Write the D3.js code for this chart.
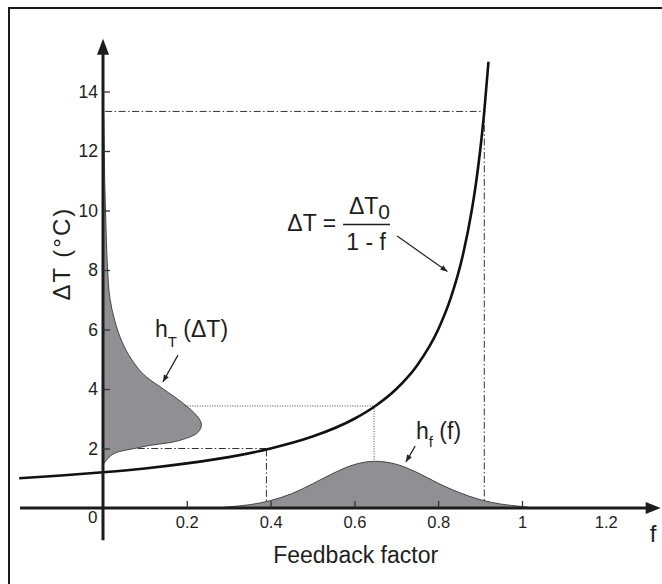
<!DOCTYPE html>
<html><head><meta charset="utf-8">
<script src="https://cdn.jsdelivr.net/npm/d3@7"></script>
<style>
body{margin:0;background:#fff}
svg{display:block}
text{font-family:"Liberation Sans",Arial,Helvetica,sans-serif;fill:#1e1e1e}
</style>
</head><body>
<svg id="c" width="662" height="584"></svg>
<script>
// Response curve ΔT = ΔT0/(1-f) (ΔT0 ≈ 1.2)
const curveF = [-0.2,-0.1,0,0.1,0.2,0.3,0.4,0.5,0.6,0.65,0.7,0.75,0.8,0.83,0.86,0.88,0.89,0.9,0.91,0.92];
const curveT = [1.0,1.09,1.2,1.33,1.5,1.71,2.0,2.4,3.0,3.43,4.0,4.8,6.0,7.06,8.57,10.0,10.9,12.0,13.33,15.0];

// h_f(f): distribution of feedback factor (height in ΔT-axis units)
const hfF = [0.27,0.3,0.35,0.4,0.45,0.5,0.55,0.6,0.65,0.7,0.75,0.8,0.85,0.9,0.95,1.0,1.03];
const hfH = [0.0,0.04,0.11,0.25,0.48,0.81,1.17,1.46,1.57,1.47,1.19,0.83,0.52,0.28,0.13,0.05,0.0];

// h_T(ΔT): distribution of warming (width in f-axis units)
const htT = [1.4,1.5,1.6,1.75,1.9,2.0,2.1,2.2,2.35,2.55,2.8,3.1,3.5,4.0,4.4,5.0,5.6,6.3,7.0,8.0,9.0,10.0,11.0,12.0,13.0,14.0];
const htW = [0,0.002,0.008,0.018,0.04,0.075,0.11,0.16,0.2,0.227,0.235,0.224,0.193,0.144,0.104,0.068,0.045,0.028,0.017,0.011,0.008,0.006,0.004,0.003,0.002,0];

// axes
const xTickVals = [0,0.2,0.4,0.6,0.8,1,1.2];
const xTickLabels = ["0","0.2","0.4","0.6","0.8","1","1.2"];
const yTickVals = [2,4,6,8,10,12,14];
const yTickLabels = ["2","4","6","8","10","12","14"];

// projection guide lines [f, ΔT]
const guideDashDot = [
  [[0.005,13.33],[0.91,13.33]],
  [[0.91,13.33],[0.91,0.26]],
  [[0.083,2.0],[0.39,2.0]],
  [[0.39,1.97],[0.39,0.23]]
];
const guideDotted = [
  [[0.195,3.43],[0.647,3.43]],
  [[0.647,3.43],[0.647,1.57]]
];

const svg = d3.select("#c");
const x = d3.scaleLinear().domain([0,1]).range([103,522]);
const y = d3.scaleLinear().domain([0,14]).range([508,91.5]);

// frame
svg.append("path").attr("d","M9,600V8H680").attr("fill","none").attr("stroke","#1a1a1a").attr("stroke-width",2);

const defs = svg.append("defs");
defs.append("marker").attr("id","ah").attr("viewBox","0 0 10 10").attr("refX",10).attr("refY",5)
  .attr("markerWidth",9).attr("markerHeight",7).attr("markerUnits","userSpaceOnUse").attr("orient","auto")
  .append("path").attr("d","M0,1L10,5L0,9Z").attr("fill","#222");

// h_T fill
const htData = htT.map((t,i)=>({t, w: htW[i]}));
svg.append("path").datum(htData)
  .attr("d", d3.area().y(d=>y(d.t)).x0(x(0)).x1(d=>x(d.w)).curve(d3.curveMonotoneY))
  .attr("fill","#909094");
svg.append("path").datum(htData)
  .attr("d", d3.line().y(d=>y(d.t)).x(d=>x(d.w)).curve(d3.curveMonotoneY))
  .attr("fill","none").attr("stroke","#444").attr("stroke-width",1);

// h_f fill
const hfData = hfF.map((f,i)=>({f, h: hfH[i]}));
svg.append("path").datum(hfData)
  .attr("d", d3.area().x(d=>x(d.f)).y0(y(0)).y1(d=>y(d.h)).curve(d3.curveMonotoneX))
  .attr("fill","#909094");
svg.append("path").datum(hfData)
  .attr("d", d3.line().x(d=>x(d.f)).y(d=>y(d.h)).curve(d3.curveMonotoneX))
  .attr("fill","none").attr("stroke","#444").attr("stroke-width",1);

// guides
const gl = d3.line().x(d=>x(d[0])).y(d=>y(d[1]));
svg.selectAll(".dd").data(guideDashDot).join("path")
  .attr("d", gl).attr("fill","none").attr("stroke","#333").attr("stroke-width",1)
  .attr("stroke-dasharray","7,2.5,1.5,2.5");
svg.selectAll(".dt").data(guideDotted).join("path")
  .attr("d", gl).attr("fill","none").attr("stroke","#444").attr("stroke-width",1)
  .attr("stroke-dasharray","1,1.5");

// main curve
const cData = curveF.map((f,i)=>({f, t: curveT[i]}));
svg.append("path").datum(cData)
  .attr("d", d3.line().x(d=>x(d.f)).y(d=>y(d.t)).curve(d3.curveMonotoneX))
  .attr("fill","none").attr("stroke","#111").attr("stroke-width",2.6);

// axes lines with arrowheads
const axCol = "#1c1c1c";
svg.append("line").attr("x1",x(-0.198)).attr("x2",x(1.3)).attr("y1",y(0)).attr("y2",y(0))
  .attr("stroke",axCol).attr("stroke-width",3);
svg.append("path").attr("d",`M${x(1.3)-2},${y(0)-6}L${x(1.3)+13},${y(0)}L${x(1.3)-2},${y(0)+6}Z`).attr("fill",axCol);
svg.append("line").attr("x1",x(0)).attr("x2",x(0)).attr("y1",y(-1.08)).attr("y2",y(15.3))
  .attr("stroke",axCol).attr("stroke-width",3);
svg.append("path").attr("d",`M${x(0)-6},${y(15.3)+2}L${x(0)},${y(15.3)-14}L${x(0)+6},${y(15.3)+2}Z`).attr("fill",axCol);

// tick axes
const tf = '"Liberation Sans",Arial,sans-serif';
const xa = svg.append("g").attr("transform",`translate(0,${y(0)})`)
  .call(d3.axisBottom(x).tickValues(xTickVals).tickFormat((d,i)=>xTickLabels[i]).tickSize(-7).tickPadding(8));
xa.select(".domain").remove();
xa.selectAll("line").attr("stroke","#333").attr("stroke-width",1.3)
  .filter(d=>d===0||d===1.2).remove();
xa.selectAll("text").attr("font-size",16.5).attr("fill","#1e1e1e").style("font-family",tf);
xa.selectAll("text").filter(d=>d===0).attr("text-anchor","end").attr("x",-6).attr("y",3).attr("font-size",17);

const ya = svg.append("g").attr("transform",`translate(${x(0)},0)`)
  .call(d3.axisLeft(y).tickValues(yTickVals).tickFormat((d,i)=>yTickLabels[i]).tickSize(-7).tickPadding(5));
ya.select(".domain").remove();
ya.selectAll("line").attr("stroke","#333").attr("stroke-width",1.3);
ya.selectAll("text").attr("font-size",17.5).attr("fill","#1e1e1e").style("font-family",tf);

// axis titles
svg.append("text").attr("x",x(0.603)).attr("y",563).attr("text-anchor","middle").attr("font-size",23).text("Feedback factor");
svg.append("text").attr("x",x(1.305)).attr("y",542).attr("font-size",24).text("f");
svg.append("text").attr("transform",`translate(70,${y(8.55)}) rotate(-90)`).attr("text-anchor","middle")
  .attr("font-size",24).attr("letter-spacing",2).text("ΔT (°C)");

// formula
svg.append("text").attr("x",x(0.44)).attr("y",y(9.3)).attr("font-size",23).text("ΔT =");
const num = svg.append("text").attr("x",x(0.587)).attr("y",y(9.87)).attr("font-size",23);
num.append("tspan").text("ΔT");
num.append("tspan").attr("dy",5).attr("font-size",21).text("0");
svg.append("line").attr("x1",x(0.573)).attr("x2",x(0.685)).attr("y1",y(9.53)).attr("y2",y(9.53))
  .attr("stroke","#1e1e1e").attr("stroke-width",1.6);
svg.append("text").attr("x",x(0.628)).attr("y",y(8.67)).attr("text-anchor","middle").attr("font-size",23).text("1 - f");

// h labels
const ht = svg.append("text").attr("x",x(0.124)).attr("y",y(5.75)).attr("font-size",23);
ht.append("tspan").text("h");
ht.append("tspan").attr("dy",10).attr("font-size",15).text("T");
ht.append("tspan").attr("dy",-10).text(" (ΔT)");
const hf = svg.append("text").attr("x",x(0.747)).attr("y",y(2.33)).attr("font-size",23);
hf.append("tspan").text("h");
hf.append("tspan").attr("dy",8).attr("font-size",15).text("f");
hf.append("tspan").attr("dy",-8).text(" (f)");

// annotation arrows [f1,T1,f2,T2]
const arrows = [[0.702,9.14,0.822,7.95],[0.179,5.14,0.143,4.24],[0.745,2.08,0.723,1.55]];
svg.selectAll(".ar").data(arrows).join("line")
  .attr("x1",d=>x(d[0])).attr("y1",d=>y(d[1])).attr("x2",d=>x(d[2])).attr("y2",d=>y(d[3]))
  .attr("stroke","#222").attr("stroke-width",1.2).attr("marker-end","url(#ah)");
</script>
</body></html>
